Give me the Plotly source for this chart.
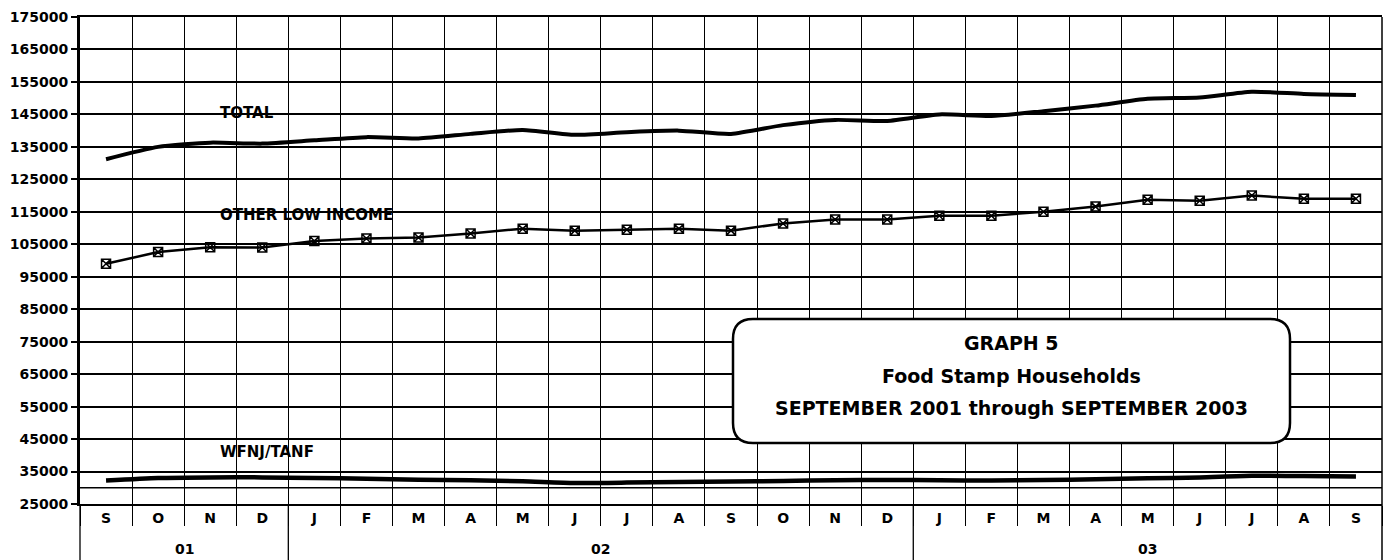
import plotly.graph_objects as go

# months from SEPTEMBER 2001 through SEPTEMBER 2003
months = ["S", "O", "N", "D",
          "J", "F", "M", "A", "M", "J", "J", "A", "S", "O", "N", "D",
          "J", "F", "M", "A", "M", "J", "J", "A", "S"]
years = ["01", "02", "03"]
year_spans = [(0, 3), (4, 15), (16, 24)]  # month index range covered by each year

total = [131200, 135000, 136300, 136000, 137000, 138000, 137600, 139000, 140200,
         138700, 139500, 140000, 139000, 141700, 143300, 143000, 145000, 144500,
         146000, 147700, 149800, 150200, 152000, 151300, 151000]
other_low_income = [99000, 102600, 104100, 104000, 106000, 106800, 107100, 108300,
                    109800, 109200, 109500, 109800, 109200, 111400, 112600, 112600,
                    113800, 113800, 115000, 116600, 118700, 118400, 120000, 119000,
                    119000]
wfnj_tanf = [32200, 33000, 33200, 33200, 33000, 32800, 32500, 32300, 32000, 31500,
             31600, 31800, 31900, 32100, 32300, 32400, 32300, 32200, 32400, 32600,
             32900, 33200, 33700, 33600, 33500]

y_ticks = list(range(25000, 175001, 10000))

FONT = "DejaVu Sans"
x_idx = list(range(len(months)))

L, R, T, B = 80, 7, 17, 56
plot_w = 1389 - L - R
plot_h = 560 - T - B

fig = go.Figure()

fig.add_trace(go.Scatter(
    x=x_idx, y=total, mode="lines", name="TOTAL",
    line=dict(color="black", width=4, shape="spline", smoothing=0.6),
))
fig.add_trace(go.Scatter(
    x=x_idx, y=other_low_income, mode="lines+markers", name="OTHER LOW INCOME",
    line=dict(color="black", width=2.5),
    marker=dict(symbol="square-x-open", size=9, color="black",
                line=dict(color="black", width=1.5)),
))
fig.add_trace(go.Scatter(
    x=x_idx, y=wfnj_tanf, mode="lines", name="WFNJ/TANF",
    line=dict(color="black", width=4.5, shape="spline", smoothing=0.6),
))

# series labels
series_labels = [("TOTAL", 2.15, 145500), ("OTHER LOW INCOME", 2.15, 114000),
                 ("WFNJ/TANF", 2.15, 41000)]
annotations = []
for text, xv, yv in series_labels:
    annotations.append(dict(x=xv, y=yv, xref="x", yref="y", text=f"<b>{text}</b>",
                            showarrow=False, xanchor="left", yanchor="middle",
                            font=dict(family=FONT, size=15, color="black")))

# year labels under the month row
for yr, (a, b) in zip(years, year_spans):
    annotations.append(dict(x=(a + b) / 2, y=-45 / plot_h, xref="x", yref="paper",
                            text=f"<b>{yr}</b>", showarrow=False,
                            xanchor="center", yanchor="middle",
                            font=dict(family=FONT, size=14, color="black")))

# title box text
box_left, box_right, box_top, box_bottom = 733, 1290, 319, 443
box_lines = [("GRAPH 5", 343), ("Food Stamp Households", 376),
             ("SEPTEMBER 2001 through SEPTEMBER 2003", 408)]
for text, ypx in box_lines:
    annotations.append(dict(x=((box_left + box_right) / 2 - L) / plot_w,
                            y=(T + plot_h - ypx) / plot_h,
                            xref="paper", yref="paper", text=f"<b>{text}</b>",
                            showarrow=False, xanchor="center", yanchor="middle",
                            font=dict(family=FONT, size=19, color="black")))

shapes = []
# extra gridline at 30000
shapes.append(dict(type="line", xref="paper", yref="y", x0=0, x1=1, y0=30000, y1=30000,
                   line=dict(color="black", width=1.5), layer="below"))
# year separators below the axis
yb = -B / plot_h
for a, b in year_spans[:-1]:
    shapes.append(dict(type="line", xref="x", yref="paper", x0=b + 0.5, x1=b + 0.5,
                       y0=0, y1=yb, line=dict(color="black", width=1.3)))
shapes.append(dict(type="line", xref="paper", yref="paper", x0=0, x1=0, y0=0, y1=yb,
                   line=dict(color="black", width=1.3)))
shapes.append(dict(type="line", xref="paper", yref="paper", x0=1, x1=1, y0=yb, y1=1,
                   line=dict(color="black", width=1.5)))

# rounded title box
bx0, bx1 = (box_left - L) / plot_w, (box_right - L) / plot_w
by0, by1 = (T + plot_h - box_bottom) / plot_h, (T + plot_h - box_top) / plot_h
rx, ry = 20 / plot_w, 20 / plot_h
path = (f"M {bx0 + rx},{by0} L {bx1 - rx},{by0} Q {bx1},{by0} {bx1},{by0 + ry} "
        f"L {bx1},{by1 - ry} Q {bx1},{by1} {bx1 - rx},{by1} "
        f"L {bx0 + rx},{by1} Q {bx0},{by1} {bx0},{by1 - ry} "
        f"L {bx0},{by0 + ry} Q {bx0},{by0} {bx0 + rx},{by0} Z")
shapes.append(dict(type="path", xref="paper", yref="paper", path=path,
                   fillcolor="white", line=dict(color="black", width=2.5), layer="above"))

fig.update_layout(
    width=1389, height=560,
    margin=dict(l=L, r=R, t=T, b=B),
    plot_bgcolor="white", paper_bgcolor="white",
    showlegend=False,
    hovermode=False,
    annotations=annotations,
    shapes=shapes,
    font=dict(family=FONT, color="black"),
)

fig.update_xaxes(
    range=[-0.5, len(months) - 0.5], automargin=False,
    tickmode="array", tickvals=x_idx, ticktext=[f"<b>{m}</b>" for m in months],
    tickfont=dict(family=FONT, size=14, color="black"),
    ticks="", showgrid=False, zeroline=False,
    showline=True, linecolor="black", linewidth=1.5, mirror=True,
    minor=dict(tick0=-0.5, dtick=1, showgrid=True, gridcolor="black", gridwidth=1.1,
               ticks="outside", ticklen=20, tickcolor="black", tickwidth=1.1),
)
fig.update_yaxes(
    range=[25000, 175000], automargin=False,
    tickmode="array", tickvals=y_ticks, ticktext=[f"<b>{v}</b>" for v in y_ticks],
    tickfont=dict(family=FONT, size=14, color="black"),
    ticks="outside", ticklen=6, tickwidth=2, tickcolor="black",
    showgrid=True, gridcolor="black", gridwidth=1.5, zeroline=False,
    showline=True, linecolor="black", linewidth=3,
)

# page body has a default margin; drop it so the figure sits at the window's corner
fig.write_html("out.html", config={"displayModeBar": False},
               post_script="document.body.style.margin='0';")
